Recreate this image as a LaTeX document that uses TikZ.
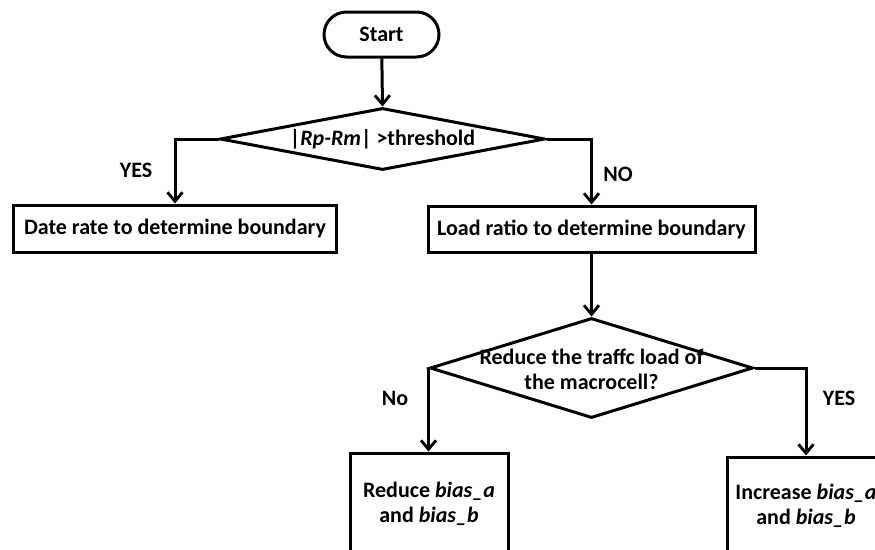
\documentclass[tikz,border=0pt]{standalone}
\usepackage{fontspec}
\setmainfont{Carlito}
\usetikzlibrary{arrows.meta,shapes.geometric,shapes.misc}
\begin{document}
\begin{tikzpicture}[x=1pt,y=-1pt,
  every node/.style={font=\bfseries\fontsize{22}{25}\selectfont},
  lw/.style={line width=3pt},
  term/.style={lw,draw,rounded rectangle,minimum width=115pt,minimum height=45pt,inner sep=0pt},
  proc/.style={lw,draw,rectangle,inner sep=0pt,align=center},
  dec/.style={lw,draw,diamond,inner sep=0pt},
  arr/.style={lw,-{Straight Barb[length=9pt,width=15pt,line width=2.8pt]}},
  lbl/.style={inner sep=0pt}
]
\useasboundingbox (0,0) rectangle (875,549);
\clip (0,0) rectangle (875,549);

\node[term] (start) at (381.5,34.5) {Start};
\node[dec,minimum width=325pt,minimum height=62pt] (d1) at (382.5,139) {};
\node[lbl] (t1) at (382.5,139) {|\textit{Rp-Rm}| >threshold};

\node[proc,minimum width=323pt,minimum height=47pt] (b1) at (175,228.5) {Date rate to determine boundary};
\node[proc,minimum width=327pt,minimum height=46pt] (b2) at (591.5,229) {Load ratio to determine boundary};

\node[dec,minimum width=323pt,minimum height=100pt] (d2) at (591.5,368) {};
\node[lbl,align=center] (t2) at (591.5,369) {Reduce the traffc load of\\the macrocell?};

\node[proc,minimum width=158pt,minimum height=102pt] (b3) at (429,504) {Reduce \textit{bias\_a}\\and \textit{bias\_b}};
\node[proc,minimum width=158pt,minimum height=98pt] (b4) at (806,506) {Increase \textit{bias\_a}\\and \textit{bias\_b}};

\node[lbl] (yes1) at (136,170) {YES};
\node[lbl] (no1) at (618,174) {NO};
\node[lbl] (no2) at (395,398) {No};
\node[lbl] (yes2) at (839,398) {YES};

\draw[arr] (start) -- (d1.north);
\draw[arr] (d1.west) -| (b1.north);
\draw[arr] (d1.east) -| (b2.north);
\draw[arr] (b2) -- (d2.north);
\draw[arr] (d2.west) -- (d2.west |- b3.north);
\draw[arr] (d2.east) -| (b4.north);
\end{tikzpicture}
\end{document}
